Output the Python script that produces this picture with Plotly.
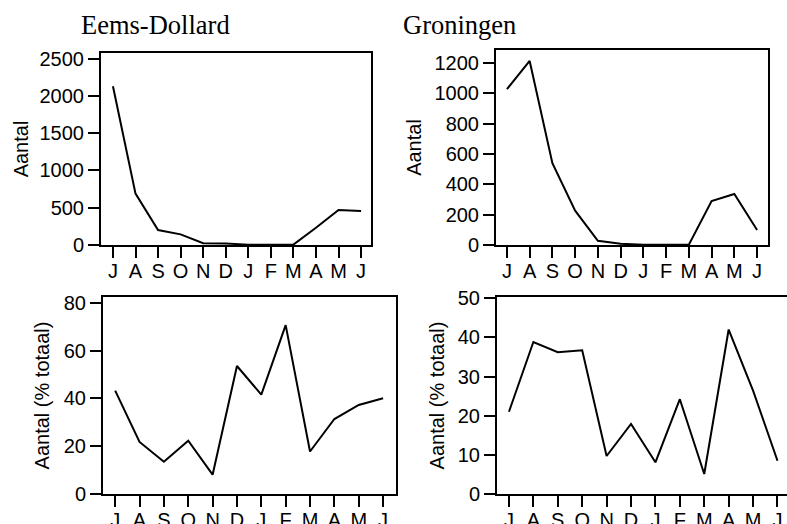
import plotly.graph_objects as go

W, H = 787, 524

months = ["J", "A", "S", "O", "N", "D", "J", "F", "M", "A", "M", "J"]

# aantallen per maand
eems_aantal = [2130, 690, 200, 143, 23, 20, 5, 3, 5, 232, 470, 456]
gron_aantal = [1028, 1215, 540, 227, 28, 8, 2, 1, 2, 290, 337, 99]

# aandeel van totaal (%)
eems_pct = [43.3, 21.8, 13.5, 22.3, 8.1, 53.6, 41.6, 70.7, 17.8, 31.4, 37.3, 40.1]
gron_pct = [21.0, 38.8, 36.2, 36.7, 9.7, 17.9, 8.1, 24.2, 5.1, 42.0, 26.4, 8.5]

x = list(range(len(months)))

fig = go.Figure()

line = dict(color="black", width=2)
fig.add_trace(go.Scatter(x=x, y=eems_aantal, mode="lines", line=line, xaxis="x", yaxis="y"))
fig.add_trace(go.Scatter(x=x, y=gron_aantal, mode="lines", line=line, xaxis="x2", yaxis="y2"))
fig.add_trace(go.Scatter(x=x, y=eems_pct, mode="lines", line=line, xaxis="x3", yaxis="y3"))
fig.add_trace(go.Scatter(x=x, y=gron_pct, mode="lines", line=line, xaxis="x4", yaxis="y4"))

font = dict(family="Liberation Sans, Arial", size=20, color="black")


def px_x(p):
    return p / W


def px_y(p):
    return 1 - p / H


def xax(dom, anchor, rng, mirror=True):
    return dict(
        domain=dom, anchor=anchor, range=rng, automargin=False,
        tickmode="array", tickvals=x, ticktext=months,
        ticks="outside", ticklen=11, tickwidth=2, tickcolor="black",
        ticklabelstandoff=-4,
        showline=True, linecolor="black", linewidth=2, mirror=mirror,
        showgrid=False, zeroline=False, tickfont=font,
    )


def yax(dom, anchor, rng, dtick, title, standoff, mirror=True):
    return dict(
        domain=dom, anchor=anchor, range=rng, dtick=dtick, automargin=False,
        ticks="outside", ticklen=11, tickwidth=2, tickcolor="black",
        showline=True, linecolor="black", linewidth=2, mirror=mirror,
        showgrid=False, zeroline=False, tickfont=font,
        title=dict(text=title, font=font, standoff=standoff),
    )


fig.update_layout(
    template="none",
    width=W, height=H,
    margin=dict(l=0, r=0, t=0, b=0),
    plot_bgcolor="white", paper_bgcolor="white",
    showlegend=False,
    font=font,
    xaxis=xax([px_x(101), px_x(371)], "y", [-0.53, 11.44]),
    yaxis=yax([px_y(245), px_y(53)], "x", [0, 2577], 500, "Aantal", 6),
    xaxis2=xax([px_x(496), px_x(768)], "y2", [-0.48, 11.48]),
    yaxis2=yax([px_y(245), px_y(50)], "x2", [0, 1287], 200, "Aantal", 8),
    xaxis3=xax([px_x(103), px_x(396)], "y3", [-0.5, 11.53]),
    yaxis3=yax([px_y(494), px_y(297)], "x3", [0, 82.5], 20, "Aantal (% totaal)", 9),
    xaxis4=xax([px_x(497), 1.0], "y4", [-0.49, 11.39]),
    yaxis4=yax([px_y(494), px_y(297)], "x4", [0, 50.3], 10, "Aantal (% totaal)", 8, mirror=False),
)

title_font = dict(family="Liberation Serif, Times New Roman", size=26.5, color="black")
for txt, xp in [("Eems-Dollard", 79), ("Groningen", 401)]:
    fig.add_annotation(
        text=txt, x=px_x(xp), y=px_y(25), xref="paper", yref="paper",
        xanchor="left", yanchor="middle", showarrow=False, font=title_font,
    )

# pagina zonder witrand, zodat de figuur het hele venster vult
fig.write_html(
    "out.html",
    config={"displayModeBar": False},
    post_script="document.body.style.margin='0';",
)
